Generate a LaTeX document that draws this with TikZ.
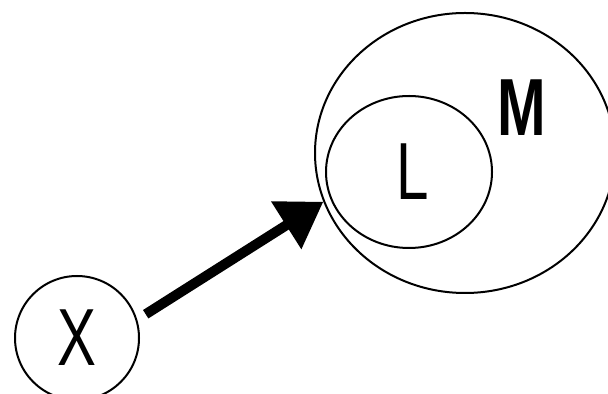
\documentclass[tikz,border=0pt]{standalone}
\usepackage{fontspec}
\setmainfont{Liberation Sans}[FakeStretch=0.72]
\usetikzlibrary{arrows.meta}
\usetikzlibrary{shapes.geometric}

\begin{document}
\begin{tikzpicture}[x=0.5pt,y=-0.5pt]
        \tikzset{
          ->,
          >={Triangle[length=22pt,width=27pt]},
          every node/.style={
            font=\fontsize{40.5}{48}\selectfont,
          },
          set/.style={
            draw,
            ellipse,
            line width=1pt,
            inner sep = 0pt,
          },
        }
        \useasboundingbox (0,0) rectangle (608,394);
        \node[set, minimum width=62pt, minimum height=62pt] (x) at (77,338) {X};
        \node[set, minimum width=150pt, minimum height=140pt] (m) at (465,153) {};
        \node[set, minimum width=83pt, minimum height=76pt] (l) at (409,172) {\hspace{4pt}L};
        \node[font=\fontsize{40.5}{48}\selectfont\bfseries] (mname) at (522,108) {M};

        \draw[line width=5pt, shorten <=5pt]
          (x.17) -- (m.199);
      \end{tikzpicture}
\end{document}
